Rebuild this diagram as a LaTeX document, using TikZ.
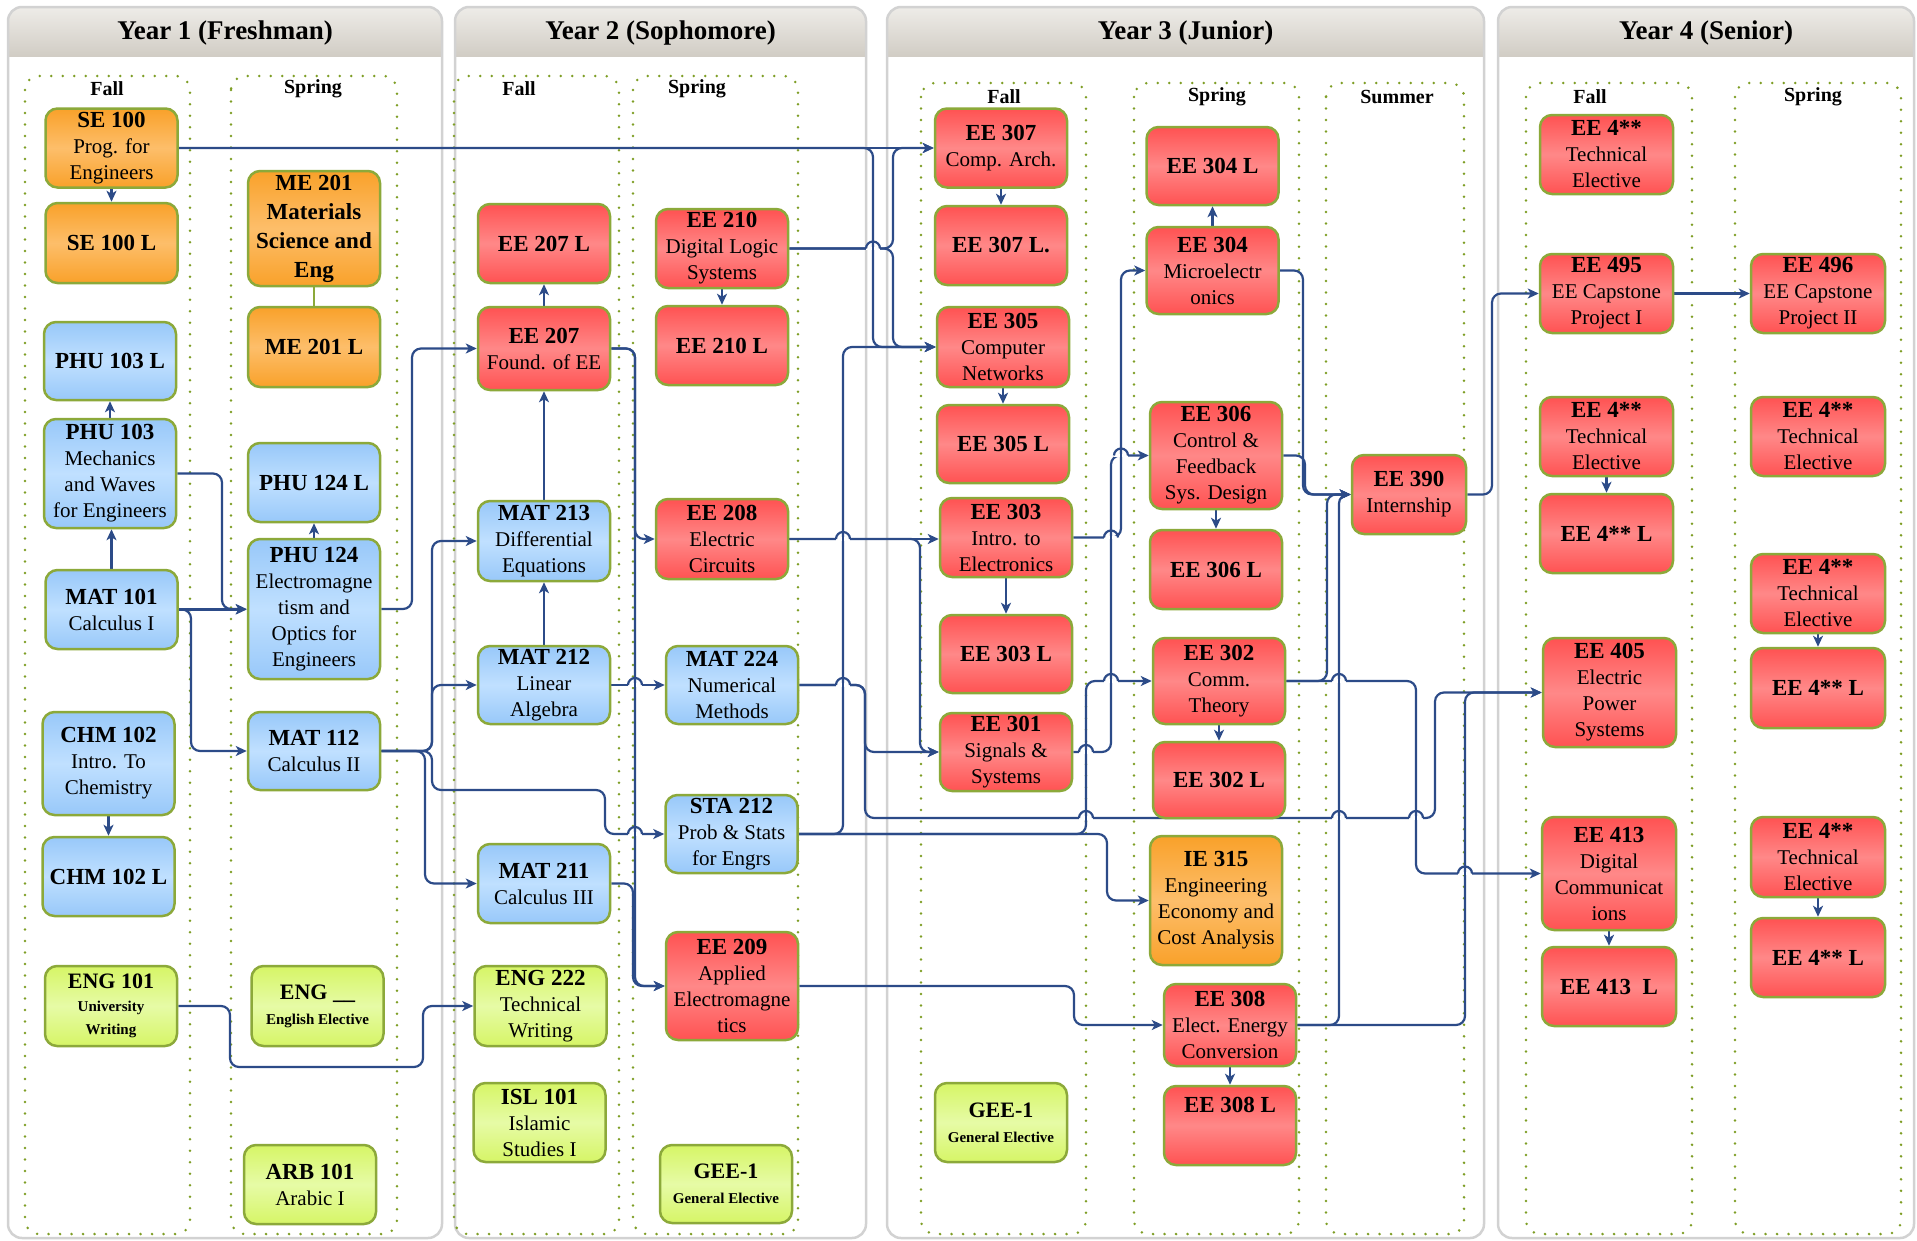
\documentclass[tikz,border=0pt]{standalone}
\usepackage{fontspec}
\setmainfont{Liberation Serif}
\usepackage{xcolor}
\usepackage{tikz}
\usetikzlibrary{arrows.meta,positioning,calc}

\definecolor{boxedge}{HTML}{8CA93A}
\definecolor{redtop}{HTML}{FF5252}
\definecolor{redmid}{HTML}{FF8888}
\definecolor{orgtop}{HTML}{F9A12A}
\definecolor{orgmid}{HTML}{FDBE6A}
\definecolor{blutop}{HTML}{98C8F9}
\definecolor{blumid}{HTML}{C0E0FF}
\definecolor{grntop}{HTML}{D6F566}
\definecolor{grnmid}{HTML}{E6FBA6}
\definecolor{linkblue}{HTML}{2C4B88}
\definecolor{dotgreen}{HTML}{7E9E25}
\definecolor{panelgray}{HTML}{D2D2D2}
\definecolor{headtop}{HTML}{EEECE8}
\definecolor{headbot}{HTML}{BDB7AC}

\newcommand{\ccode}[1]{{\fontsize{23}{26}\selectfont\bfseries #1}}
% a line that hops over a vertical one at (#1,#2)
\newcommand{\linehop}[2]{%
  \fill[white] ({#1-7},{#2-1.8}) rectangle ({#1+7},{#2+1.8});
  \draw[hopline] (#1,{#2-4}) -- (#1,{#2+4});
  \draw[hopline] ({#1-7},#2) arc[start angle=180, end angle=360, radius=7];}

\pgfdeclarelayer{back}
\pgfdeclarelayer{mid}
\pgfsetlayers{back,mid,main}

\tikzset{
  course/.style={rectangle, rounded corners=12pt, draw=boxedge, line width=2.5pt,
    minimum width=132pt, minimum height=79pt, inner sep=0pt, align=center,
    font=\fontsize{21}{26}\selectfont},
  redbox/.style={course, top color=redtop, bottom color=redtop, middle color=redmid},
  orangebox/.style={course, top color=orgtop, bottom color=orgtop, middle color=orgmid},
  bluebox/.style={course, top color=blutop, bottom color=blutop, middle color=blumid},
  greenbox/.style={course, top color=grntop, bottom color=grntop, middle color=grnmid},
  notefont/.style={font=\fontsize{15}{25}\selectfont\bfseries},
  prereq/.style={draw=linkblue, line width=2.2pt, rounded corners=9pt,
    -{Stealth[length=11pt,width=10pt,inset=3pt]}},
  hopline/.style={draw=linkblue, line width=2.2pt},
  labline/.style={draw=boxedge, line width=2.5pt},
  yearpanel/.style={draw=panelgray, line width=2.5pt, rounded corners=14pt},
  headshade/.style={top color=headtop, bottom color=headbot},
  yearlabel/.style={font=\fontsize{27}{32}\selectfont\bfseries},
  semester/.style={draw=dotgreen, line width=2.8pt, dash pattern=on 0pt off 11.5pt,
    line cap=round, rounded corners=14pt},
  termlabel/.style={font=\fontsize{20}{24}\selectfont\bfseries}
}

\begin{document}
\begin{tikzpicture}[x=1pt, y=-1pt]
\useasboundingbox (0,0) rectangle (1917,1240);

% year panels and semester frames
\begin{pgfonlayer}{back}
  \foreach \xa/\xb/\yname in {8/442/Year 1 (Freshman), 455/866/Year 2 (Sophomore),
      887/1484/Year 3 (Junior), 1498/1914/Year 4 (Senior)} {
    \fill[headshade, rounded corners=14pt] (\xa,7) rectangle (\xb,90);
    \fill[white] (\xa,57) rectangle (\xb,1238);
    \draw[yearpanel] (\xa,7) rectangle (\xb,1238);
    \node[yearlabel] (year\xa) at ({(\xa+\xb)/2},33) {\yname};
  }
  \foreach \xa/\xb/\ya in {25/190/76, 231/397/76, 454/619/76, 633/798/76,
      921/1086/83, 1134/1299/83, 1326/1464/83, 1526/1692/83, 1735/1901/83}
    \draw[semester] (\xa,\ya) rectangle (\xb,1234);
\end{pgfonlayer}

\node[termlabel] (fall1) at (107,89) {Fall};
\node[termlabel] (spring1) at (313,89) {Spring};
\node[termlabel] (fall2) at (519,89) {Fall};
\node[termlabel] (spring2) at (697,89) {Spring};
\node[termlabel] (fall3) at (1004,97) {Fall};
\node[termlabel] (spring3) at (1217,97) {Spring};
\node[termlabel] (summer3) at (1397,97) {Summer};
\node[termlabel] (fall4) at (1590,97) {Fall};
\node[termlabel] (spring4) at (1813,97) {Spring};

% Year 1
\node[orangebox] (se100) at (111.5,148) {\ccode{SE 100}\\Prog. for\\Engineers};
\node[orangebox, minimum height=80pt] (se100l) at (111.5,243) {\ccode{SE 100 L}};
\node[bluebox, minimum height=78pt] (phu103l) at (110,361) {\ccode{PHU 103 L}};
\node[bluebox, minimum height=109pt] (phu103) at (110,473.5) {\ccode{PHU 103}\\Mechanics\\and Waves\\for Engineers};
\node[bluebox] (mat101) at (111.5,609.5) {\ccode{MAT 101}\\Calculus I};
\node[bluebox, minimum height=103pt] (chm102) at (108.5,763.5) {\ccode{CHM 102}\\Intro. To\\Chemistry};
\node[bluebox] (chm102l) at (108.5,876.5) {\ccode{CHM 102 L}};
\node[greenbox, minimum height=80pt, notefont, font=\fontsize{15}{23}\selectfont\bfseries] (eng101) at (111,1006) {{\fontsize{22}{24}\selectfont ENG 101}\\University\\Writing};

\node[orangebox, minimum height=115pt, font=\fontsize{23}{29}\selectfont\bfseries] (me201) at (314,228.5) {ME 201\\Materials\\Science and\\Eng};
\node[orangebox, minimum height=80pt] (me201l) at (314,347) {\ccode{ME 201 L}};
\node[bluebox] (phu124l) at (314,482.5) {\ccode{PHU 124 L}};
\node[bluebox, minimum height=140pt] (phu124) at (314,609) {\ccode{PHU 124}\\Electromagne\\tism and\\Optics for\\Engineers};
\node[bluebox, minimum height=78pt] (mat112) at (314,751) {\ccode{MAT 112}\\Calculus II};
\node[greenbox, minimum height=80pt, notefont] (engel) at (317.5,1006) {{\fontsize{22}{24}\selectfont ENG \_\_}\\English Elective};
\node[greenbox] (arb101) at (310,1184.5) {\ccode{ARB 101}\\Arabic I};

% Year 2
\node[redbox] (ee207l) at (544,243.5) {\ccode{EE 207 L}};
\node[redbox, minimum height=83pt] (ee207) at (544,348.5) {\ccode{EE 207}\\Found. of EE};
\node[bluebox, minimum height=80pt] (mat213) at (544,541) {\ccode{MAT 213}\\Differential\\Equations};
\node[bluebox, minimum height=78pt] (mat212) at (544,685) {\ccode{MAT 212}\\Linear\\Algebra};
\node[bluebox] (mat211) at (544,883.5) {\ccode{MAT 211}\\Calculus III};
\node[greenbox, minimum height=80pt] (eng222) at (540.5,1006) {\ccode{ENG 222}\\Technical\\Writing};
\node[greenbox] (isl101) at (539.5,1122.5) {\ccode{ISL 101}\\Islamic\\Studies I};

\node[redbox] (ee210) at (722,248.5) {\ccode{EE 210}\\Digital Logic\\Systems};
\node[redbox] (ee210l) at (722,345.5) {\ccode{EE 210 L}};
\node[redbox, minimum height=80pt] (ee208) at (722,539) {\ccode{EE 208}\\Electric\\Circuits};
\node[bluebox, minimum height=78pt] (mat224) at (732,685) {\ccode{MAT 224}\\Numerical\\Methods};
\node[bluebox, minimum height=78pt] (sta212) at (731.5,834) {\ccode{STA 212}\\Prob \& Stats\\for Engrs};
\node[redbox, minimum height=108pt] (ee209) at (732,986) {\ccode{EE 209}\\Applied\\Electromagne\\tics};
\node[greenbox, minimum height=78pt, notefont] (gee2) at (726,1184) {{\fontsize{22}{24}\selectfont GEE-1}\\General Elective};

% Year 3
\node[redbox] (ee307) at (1001,148) {\ccode{EE 307}\\Comp. Arch.};
\node[redbox] (ee307l) at (1001,245.5) {\ccode{EE 307 L.}};
\node[redbox, minimum height=80pt] (ee305) at (1003,347) {\ccode{EE 305}\\Computer\\Networks};
\node[redbox, minimum height=78pt] (ee305l) at (1003,444) {\ccode{EE 305 L}};
\node[redbox] (ee303) at (1006,537.5) {\ccode{EE 303}\\Intro. to\\Electronics};
\node[redbox, minimum height=78pt] (ee303l) at (1006,654) {\ccode{EE 303 L}};
\node[redbox, minimum height=78pt] (ee301) at (1006,752) {\ccode{EE 301}\\Signals \&\\Systems};
\node[greenbox, notefont] (gee3) at (1001,1122.5) {{\fontsize{22}{24}\selectfont GEE-1}\\General Elective};

\node[redbox, minimum height=78pt] (ee304l) at (1212.5,166) {\ccode{EE 304 L}};
\node[redbox, minimum height=87pt] (ee304) at (1212.5,270.5) {\ccode{EE 304}\\Microelectr\\onics};
\node[redbox, minimum height=107pt] (ee306) at (1216,455.5) {\ccode{EE 306}\\Control \&\\Feedback\\Sys. Design};
\node[redbox] (ee306l) at (1216,569.5) {\ccode{EE 306 L}};
\node[redbox, minimum height=86pt] (ee302) at (1219,681) {\ccode{EE 302}\\Comm.\\Theory};
\node[redbox, minimum height=76pt] (ee302l) at (1219,780) {\ccode{EE 302 L}};
\node[orangebox, minimum height=129pt] (ie315) at (1216,900.5) {\ccode{IE 315}\\Engineering\\Economy and\\Cost Analysis};
\node[redbox, minimum height=82pt] (ee308) at (1230,1025) {\ccode{EE 308}\\Elect. Energy\\Conversion};
\node[redbox] (ee308l) at (1230,1125.5) {\ccode{EE 308 L}\\[16pt]};

\node[redbox, minimum width=114pt] (ee390) at (1409,494.5) {\ccode{EE 390}\\Internship};

% Year 4
\node[redbox, minimum width=133pt] (te1) at (1606.5,154.5) {\ccode{EE 4**}\\Technical\\Elective};
\node[redbox, minimum width=133pt] (ee495) at (1606.5,293.5) {\ccode{EE 495}\\EE Capstone\\Project I};
\node[redbox, minimum width=133pt] (te2) at (1606.5,436.5) {\ccode{EE 4**}\\Technical\\Elective};
\node[redbox, minimum width=133pt] (te2l) at (1606.5,533.5) {\ccode{EE 4** L}};
\node[redbox, minimum width=133pt, minimum height=109pt] (ee405) at (1609.5,692.5) {\ccode{EE 405}\\Electric\\Power\\Systems};
\node[redbox, minimum width=134pt, minimum height=113pt] (ee413) at (1609,873.5) {\ccode{EE 413}\\Digital\\Communicat\\ions};
\node[redbox, minimum width=134pt] (ee413l) at (1609,986.5) {\ccode{EE 413\ \ L}};

\node[redbox, minimum width=134pt] (ee496) at (1818,293.5) {\ccode{EE 496}\\EE Capstone\\Project II};
\node[redbox, minimum width=134pt] (te3) at (1818,436.5) {\ccode{EE 4**}\\Technical\\Elective};
\node[redbox, minimum width=134pt] (te4) at (1818,593.5) {\ccode{EE 4**}\\Technical\\Elective};
\node[redbox, minimum width=134pt, minimum height=80pt] (te4l) at (1818,688) {\ccode{EE 4** L}};
\node[redbox, minimum width=134pt, minimum height=80pt] (te5) at (1818,857) {\ccode{EE 4**}\\Technical\\Elective};
\node[redbox, minimum width=134pt] (te5l) at (1818,957.5) {\ccode{EE 4** L}};

% prerequisites
\begin{pgfonlayer}{mid}
  \draw[prereq] (se100) -- (se100l);
  \draw[prereq] (phu103) -- (phu103l);
  \draw[prereq] (mat101.north) -- (mat101.north |- phu103.south);
  \draw[prereq] (chm102) -- (chm102l);
  \draw[labline] (me201) -- (me201l);
  \draw[prereq] (phu124) -- (phu124l);
  \draw[prereq] (phu103.east) -| (222,609) -- (phu124.west);
  \draw[prereq] (mat101.east) -- (mat101.east -| phu124.west);
  \draw[prereq] (mat101.east) -| (191,751) -- (mat112.west);
  \draw[prereq] (eng101.east) -| (230,1067) -| (423,1006) -- (eng222.west);
  \draw[prereq] (phu124.east) -| (412,348.5) -- (ee207.west);
  \draw[prereq] (mat112.east) -| (432,541) -- (mat213.west);
  \draw[prereq] (mat112.east) -| (432,685) -- (mat212.west);
  \draw[prereq] (mat112.east) -| (425,883.5) -- (mat211.west);
  \draw[prereq] (mat112.east) -| (432,790) -| (605,834) -- (sta212.west);
  \draw[prereq] (se100.east) -- (se100.east -| ee307.west);
  \draw[prereq] (se100.east) -| (873,347) -- (ee305.west);

  \draw[prereq] (ee207) -- (ee207l);
  \draw[prereq] (mat213) -- (ee207);
  \draw[prereq] (mat212) -- (mat213);
  \draw[prereq] (ee210) -- (ee210l);
  \draw[prereq] (ee207.east) -| (635,539) -- (ee208.west);
  \draw[prereq] (ee207.east) -| (635,986) -- (ee209.west);
  \draw[prereq] (mat211.east) -| (633,986) -- (ee209.west);
  \draw[prereq] (mat212) -- (mat224);
  \draw[prereq] (ee210.east) -| (893,148) -- (ee307.west);
  \draw[prereq] (ee210.east) -| (893,347) -- (ee305.west);
  \draw[prereq] (sta212.east) -| (843,347) -- (ee305.west);
  \draw[prereq] (ee208.east) -- (ee208.east -| ee303.west);
  \draw[prereq] (ee208.east) -| (920,752) -- (ee301.west);
  \draw[prereq] (mat224.east) -| (865,752) -- (ee301.west);
  \draw[prereq] (mat224.east) -| (865,818) -| (1435,692.5) -- (ee405.west);
  \draw[prereq] (sta212.east) -| (1086,681) -- (ee302.west);
  \draw[prereq] (sta212.east) -| (1107,900.5) -- (ie315.west);
  \draw[prereq] (ee209.east) -| (1074,1025) -- (ee308.west);

  \draw[prereq] (ee307) -- (ee307l);
  \draw[prereq] (ee305) -- (ee305l);
  \draw[prereq] (ee303) -- (ee303l);
  \draw[prereq] (ee304) -- (ee304l);
  \draw[prereq] (ee306) -- (ee306l);
  \draw[prereq] (ee302) -- (ee302l);
  \draw[prereq] (ee308) -- (ee308l);
  \draw[prereq] (ee303.east) -| (1121,270.5) -- (ee304.west);
  \draw[prereq] (ee301.east) -| (1111,455.5) -- (ee306.west);
  \draw[prereq] (ee304.east) -| (1303,494.5) -- (ee390.west);
  \draw[prereq] (ee306.east) -| (1305,494.5) -- (ee390.west);
  \draw[prereq] (ee302.east) -| (1327,494.5) -- (ee390.west);
  \draw[prereq] (ee308.east) -| (1339,494.5) -- (ee390.west);
  \draw[prereq] (ee302.east) -| (1416,873.5) -- (ee413.west);
  \draw[prereq] (ee308.east) -| (1465,692.5) -- (ee405.west);

  \draw[prereq] (ee390.east) -| (1492,293.5) -- (ee495.west);
  \draw[prereq] (ee495) -- (ee496);
  \draw[prereq] (te2) -- (te2l);
  \draw[prereq] (ee413) -- (ee413l);
  \draw[prereq] (te4) -- (te4l);
  \draw[prereq] (te5) -- (te5l);

  % hops where lines cross
  \foreach \hx/\hy in {873/248.5, 843/539, 843/685, 635/685, 635/834,
      1111/537.5, 1086/752, 1121/455.5, 1111/681, 1339/681,
      1086/818, 1339/818, 1416/818, 1465/873.5} {
    \linehop{\hx}{\hy}
  }
\end{pgfonlayer}
\end{tikzpicture}
\end{document}
